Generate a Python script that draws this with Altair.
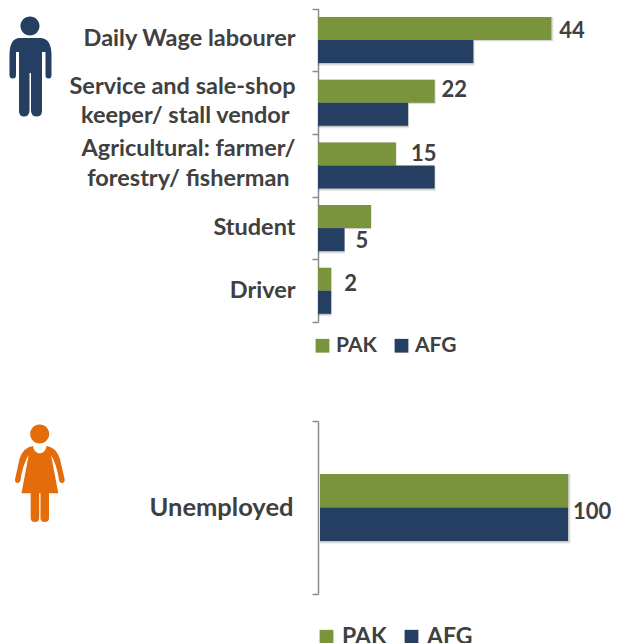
import re
import altair as alt
import pandas as pd

categories = ["Daily Wage labourer", "Service and sale-shop|keeper/ stall vendor\u2005\u200b",
              "Agricultural: farmer/|forestry/ fisherman\u2005\u200b", "Student", "Driver"]
pak_values = [44, 22, 14.7, 10, 2.5]
afg_values = [29.3, 17, 22, 5, 2.5]
series = ["PAK", "AFG"]
top_labels = [("44", 0, "PAK"), ("22", 1, "PAK"), ("15", 2, "PAK"), ("5", 3, "AFG"), ("2", 4, "PAK")]
bottom_category = ["Unemployed"]
bottom_values = [100, 100]
bottom_label = "100"

GREEN, NAVY, ORANGE, TEXT, AXIS = "#7A943C", "#243F61", "#E46C0A", "#404040", "#8C8C8C"
FONT = "Lato"


def norm(path, cx, cy):
    out, is_x = [], True
    for tok in re.findall(r"[A-Za-z]|-?[\d.]+", path):
        if tok.isalpha():
            out.append(tok)
        else:
            v = float(tok)
            v = (v - cx) / 50 if is_x else (v - cy) / 50
            is_x = not is_x
            out.append(f"{v:.4f}")
    return " ".join(out)


def circle(x, y, r):
    k = r * 0.5523
    return (f"M {x-r} {y} C {x-r} {y-k} {x-k} {y-r} {x} {y-r} C {x+k} {y-r} {x+r} {y-k} {x+r} {y} "
            f"C {x+r} {y+k} {x+k} {y+r} {x} {y+r} C {x-k} {y+r} {x-r} {y+k} {x-r} {y} Z ")


man_path = norm(circle(30, 26, 9.5) + """
M 19 38 L 41 38 Q 51.5 39 51.5 55 L 51.5 75 Q 51.5 78.5 48.5 78.5 Q 45.5 78.5 45.5 75 L 45.5 52 L 42 52
L 42 111 Q 42 116.5 36.5 116.5 Q 31.5 116.5 31 111 L 31 73 L 29.5 73 L 29.5 111 Q 29 116.5 24 116.5
Q 19 116.5 19 111 L 19 52 L 16 52 L 16 75 Q 16 78.5 12.8 78.5 Q 9.5 78.5 9.5 75 L 9.5 55 Q 9.5 39 19 38 Z
""", 30, 67)

woman_path = norm(circle(39.7, 434, 9.5) + """
M 33 446 Q 34 453 39.7 453.5 Q 45.5 453 46.5 446 Q 56 447 60 459 L 64.7 479.5 Q 65 483 62 483 Q 59.5 483 59 480
Q 57 465 51 455 L 58.3 493.3 L 49 493.3 L 49 518 Q 49 522 44.8 522 Q 40.5 522 40.5 518 L 40.5 493.3 L 39.2 493.3
L 39.2 518 Q 39.2 522 35 522 Q 30.7 522 30.7 518 L 30.7 493.3 L 21.5 493.3 L 28.7 455 Q 22.5 465 20.5 480
Q 20 483 17.5 483 Q 14.8 483 15 479.5 L 19.5 459 Q 23.5 447 33 446 Z
""", 39.7, 470)

top_df = pd.DataFrame(
    [{"category": c, "series": "PAK", "value": v} for c, v in zip(categories, pak_values)]
    + [{"category": c, "series": "AFG", "value": v} for c, v in zip(categories, afg_values)]
)
bottom_df = pd.DataFrame(
    [{"category": bottom_category[0], "series": s, "value": v} for s, v in zip(series, bottom_values)]
)


def y_axis(label_padding, font_size):
    return alt.Axis(title=None, orient="left", domainColor=AXIS, domainWidth=1.5, tickColor=AXIS, tickWidth=1.5,
                    tickSize=6, tickBand="extent", labelFont=FONT, labelFontWeight="bold", labelFontSize=font_size,
                    labelColor=TEXT, labelPadding=label_padding, labelLineHeight=29.5, labelLimit=320,
                    labelExpr="split(datum.label, '|')", grid=False,
                    labelOffset={"condition": [{"test": "indexof(datum.label, '|') >= 0", "value": -16.5},
                                               {"test": "indexof(datum.label, 'Daily') >= 0", "value": -1.5}],
                                 "value": 0})


def legend(x, y, font_size, pad, offset):
    return alt.Legend(orient="none", legendX=x, legendY=y, direction="horizontal", columns=2, title=None,
                      symbolType="square", symbolSize=190, symbolStrokeWidth=0, labelFont=FONT,
                      labelFontWeight="bold", labelFontSize=font_size, labelColor=TEXT, labelOffset=offset,
                      columnPadding=pad, padding=0, labelLimit=100)


color = lambda lg: alt.Color("series:N", scale=alt.Scale(domain=series, range=[GREEN, NAVY]), legend=lg)


def shadow(df, dom, x_range, y_dom, y_range, off_range, shift, opacity):
    return alt.Chart(df).mark_bar(color="#000000", opacity=opacity).encode(
        x=alt.X("value:Q", axis=None, scale=alt.Scale(domain=dom, range=[x_range[0], x_range[1] + shift])),
        y=alt.Y("category:N", axis=None, scale=alt.Scale(domain=y_dom, range=y_range, paddingInner=0, paddingOuter=0)),
        yOffset=alt.YOffset("series:N", scale=alt.Scale(domain=series, range=[off_range[0], off_range[1] + shift],
                                                        paddingInner=0, paddingOuter=0)),
    )


x_top = alt.X("value:Q", axis=None, scale=alt.Scale(domain=[0, 50], range=[0, 265]))
y_top = alt.Y("category:N", axis=y_axis(17, 23.5), scale=alt.Scale(domain=categories, range=[0.5, 314], paddingInner=0, paddingOuter=0))
yo_top = alt.YOffset("series:N", scale=alt.Scale(domain=series, range=[8.5, 54.5], paddingInner=0, paddingOuter=0))

top_bars = alt.Chart(top_df).mark_bar(cornerRadius=0).encode(x=x_top, y=y_top, yOffset=yo_top, color=color(legend(-6, 327, 21, 14, 3)))

label_nudge = {0: (8, 2), 1: (7, -1), 2: (15, 0), 3: (11, 1), 4: (13, 5)}
top_layers = [top_bars]
for text, idx, s in top_labels:
    row = top_df[(top_df.category == categories[idx]) & (top_df.series == s)].assign(label=text)
    dx, dy = label_nudge[idx]
    top_layers.append(
        alt.Chart(row).mark_text(font=FONT, fontWeight="bold", fontSize=22, color=TEXT, align="left",
                                 baseline="middle", dx=dx, dy=dy)
        .encode(x=x_top, y=y_top, yOffset=yo_top, text="label:N")
    )
top = alt.layer(*top_layers)

x_bot = alt.X("value:Q", axis=None, scale=alt.Scale(domain=[0, 100], range=[2, 250]))
y_bot = alt.Y("category:N", axis=y_axis(19, 25.5), scale=alt.Scale(domain=bottom_category, range=[413, 586], paddingInner=0, paddingOuter=0))
yo_bot = alt.YOffset("series:N", scale=alt.Scale(domain=series, range=[53, 120], paddingInner=0, paddingOuter=0))
bot_bars = alt.Chart(bottom_df).mark_bar().encode(x=x_bot, y=y_bot, yOffset=yo_bot, color=color(legend(-3, 617, 23, 13, 4)))
bot_text = alt.Chart(bottom_df.head(1).assign(label=bottom_label)).mark_text(
    font=FONT, fontWeight="bold", fontSize=22, color=TEXT, align="left", baseline="middle", dx=5, dy=4
).encode(x=x_bot, y=y_bot, text="label:N")
bottom = alt.layer(bot_bars, bot_text)

man = alt.Chart(pd.DataFrame({"icon": ["man"]})).mark_point(shape=man_path, filled=True, fill=NAVY, opacity=1, size=10000, strokeWidth=0).encode(
    x=alt.value(30 - 318), y=alt.value(67 - 8))
woman = alt.Chart(pd.DataFrame({"icon": ["woman"]})).mark_point(shape=woman_path, filled=True, fill=ORANGE, opacity=1, size=10000, strokeWidth=0).encode(
    x=alt.value(39.7 - 318), y=alt.value(470 - 8))

shadows = []
for shift, op in [(2.5, 0.10), (1.2, 0.14)]:
    shadows.append(shadow(top_df, [0, 50], [0, 265], categories, [0.5, 314], [8.5, 54.5], shift, op))
    shadows.append(shadow(bottom_df, [0, 100], [2, 250], bottom_category, [413, 586], [53, 120], shift, op))

chart = alt.layer(man, woman, *shadows, top, bottom).resolve_scale(
    x="independent", y="independent", color="independent", yOffset="independent"
).properties(
    width=294, height=635, padding={"left": 310, "top": 0, "right": 0, "bottom": 0},
    autosize=alt.AutoSizeParams(type="none"), background="white"
).configure_view(stroke=None)

chart.save("out.html", embed_options={"renderer": "svg", "actions": False})
